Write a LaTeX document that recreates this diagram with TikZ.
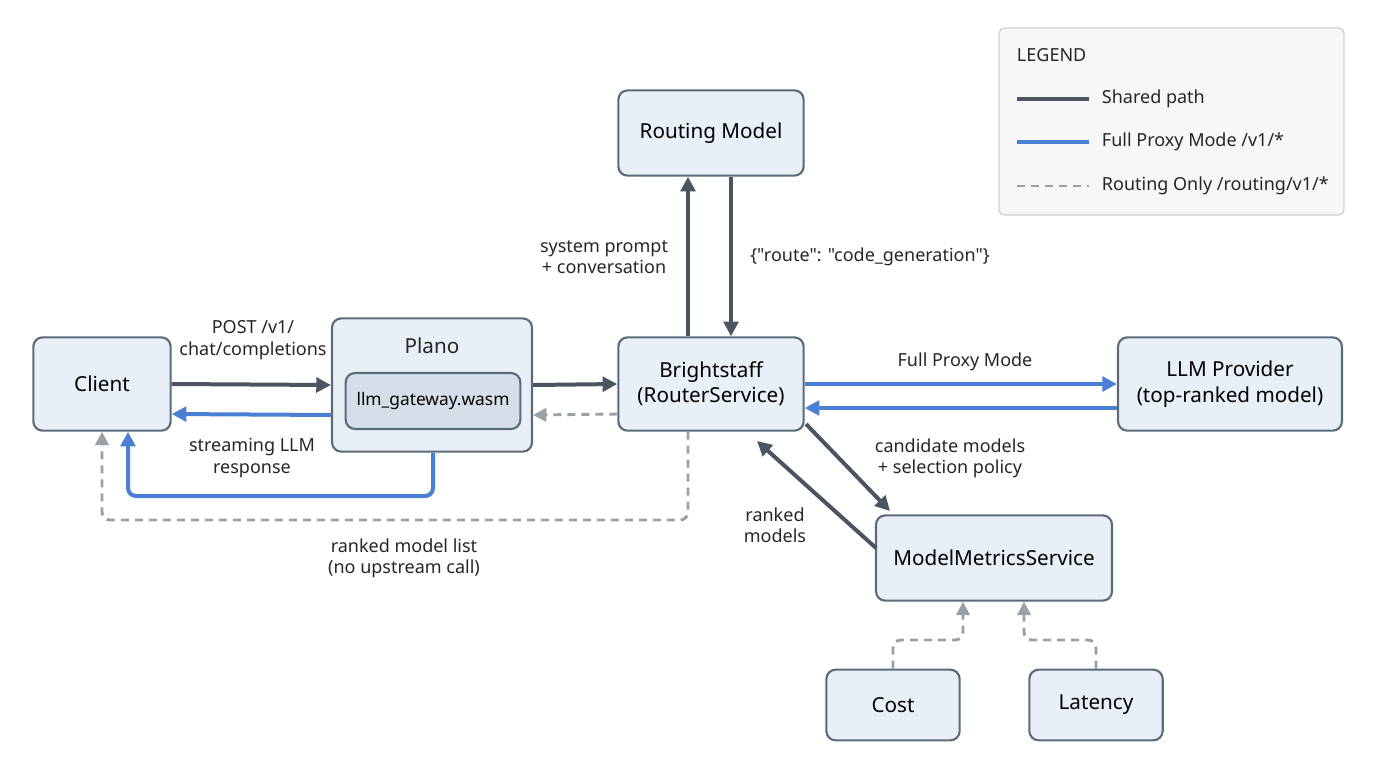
\documentclass[tikz,border=0pt]{standalone}
\usepackage{fontspec}
\setmainfont{Noto Sans}
\newfontfamily\rawfont{Noto Sans}[Ligatures=TeXOff]
\usetikzlibrary{arrows.meta}
\definecolor{darkline}{HTML}{4A5561}
\definecolor{blueline}{HTML}{4A7FD4}
\definecolor{grayline}{HTML}{9AA0A6}
\definecolor{boxfill}{HTML}{E9EFF6}
\definecolor{boxdraw}{HTML}{5C6B7A}
\definecolor{innerfill}{HTML}{D6DFE9}
\tikzset{every picture/.style={line width=0.75pt}}
\tikzset{
  box/.style={draw=boxdraw, fill=boxfill, line width=1.6pt, rounded corners=7pt, align=center, font=\fontsize{15.5}{19}\selectfont},
  lbl/.style={align=center, font=\fontsize{13.5}{16}\selectfont, text=black!85},
  shared/.style={draw=darkline, line width=3pt, -{Triangle[length=11pt,width=11pt]}},
  proxy/.style={draw=blueline, line width=3pt, -{Triangle[length=11pt,width=11pt]}, rounded corners=6pt},
  routing/.style={draw=grayline, line width=2.2pt, dash pattern=on 6pt off 4.5pt, -{Triangle[length=10pt,width=10pt]}, rounded corners=6pt}
}
\begin{document}
\begin{tikzpicture}[x=0.75pt,y=0.75pt,yscale=-1,xscale=1]
\useasboundingbox (0,0) rectangle (1376,768);

% Legend
\draw [draw=black!18, fill=black!3, line width=1pt, rounded corners=4pt] (999,28) rectangle (1344,215);
\node (legtitle) [lbl, anchor=west] at (1012,55) {LEGEND};
\coordinate (lsA) at (1017,99); \coordinate (leA) at (1089,99);
\coordinate (lsB) at (1017,142); \coordinate (leB) at (1089,142);
\coordinate (lsC) at (1017,186); \coordinate (leC) at (1089,186);
\draw [darkline, line width=3pt] (lsA) -- (leA);
\draw [blueline, line width=3pt] (lsB) -- (leB);
\draw [grayline, line width=2.2pt, dash pattern=on 6pt off 4.5pt] (lsC) -- (leC);
\node (legA) [lbl, anchor=west] at (1097,99) {Shared path};
\node (legB) [lbl, anchor=west] at (1097,142) {Full Proxy Mode /v1/*};
\node (legC) [lbl, anchor=west] at (1097,186) {Routing Only /routing/v1/*};

% Boxes
\node (client) [box, minimum width=103pt, minimum height=70pt] at (102,384) {Client};
\node (plano) [box, minimum width=150pt, minimum height=100pt] at (432,385) {};
\node (planotitle) [lbl, font=\fontsize{15.5}{19}\selectfont] at (432,346) {Plano};
\node (wasm) [box, fill=innerfill, minimum width=131pt, minimum height=42pt, font=\fontsize{13}{15}\selectfont] at (433,401) {llm\_gateway.wasm};
\node (bright) [box, minimum width=139pt, minimum height=70pt] at (711,384) {Brightstaff\\(RouterService)};
\node (routing) [box, minimum width=139pt, minimum height=64pt] at (711,133) {Routing Model};
\node (llm) [box, minimum width=168pt, minimum height=70pt] at (1230,384) {LLM Provider\\(top-ranked model)};
\node (metrics) [box, minimum width=177pt, minimum height=64pt] at (994,558) {ModelMetricsService};
\node (cost) [box, minimum width=100pt, minimum height=53pt] at (893,705) {Cost};
\node (latency) [box, minimum width=100pt, minimum height=53pt] at (1096,705) {Latency};

% Client <-> Plano
\draw [shared] (client.east) -- (plano.west);
\draw [proxy] ([yshift=22.5pt]plano.west) -- ([yshift=22.5pt]client.east);
\coordinate (blueA) at (433,496);
\coordinate (blueB) at (128,496);
\draw [proxy] (plano.south -| blueA) -- (blueA) -- (blueB) -- (blueB |- client.south);
\node (postlbl) [lbl] at (253,340) {POST /v1/\\chat/completions};
\node (streamlbl) [lbl] at (252,458) {streaming LLM\\response};

% Plano <-> Brightstaff
\draw [shared] (plano.east) -- (bright.west);
\draw [routing] ([yshift=22.5pt]bright.west) -- ([yshift=22.5pt]plano.east);
\coordinate (dashA) at (688,520);
\coordinate (dashB) at (102,520);
\draw [routing] (bright.south -| dashA) -- (dashA) -- (dashB) -- (client.south);
\node (rankedlbl) [lbl] at (404,558) {ranked model list\\(no upstream call)};

% Brightstaff <-> Routing Model
\coordinate (upX) at (688,0);
\coordinate (downX) at (731,0);
\draw [shared] (bright.north -| upX) -- (routing.south -| upX);
\draw [shared] (routing.south -| downX) -- (bright.north -| downX);
\node (promptlbl) [lbl] at (604,257) {system prompt\\+ conversation};
\node (routelbl) [lbl] at (870,257) {\rawfont\{"route": "code\_generation"\}};

% Brightstaff <-> LLM Provider
\draw [proxy] (bright.east) -- (llm.west);
\draw [proxy] ([yshift=18pt]llm.west) -- ([yshift=18pt]bright.east);
\node (fulllbl) [lbl] at (965,362) {Full Proxy Mode};

% Brightstaff <-> ModelMetricsService
\coordinate (candS) at (806,424);
\coordinate (candE) at (890,511);
\coordinate (rankS) at (876,548);
\coordinate (rankE) at (757,441);
\draw [shared] (candS) -- (candE);
\draw [shared] (rankS) -- (rankE);
\node (candlbl) [lbl] at (950,458) {candidate models\\+ selection policy};
\node (modlbl) [lbl] at (775,525) {ranked\\models};

% Cost, Latency -> ModelMetricsService
\coordinate (costA) at (893,640);
\coordinate (costB) at (963,640);
\coordinate (latA) at (1096,640);
\coordinate (latB) at (1024,640);
\draw [routing] (cost.north) -- (costA) -- (costB) -- (metrics.south -| costB);
\draw [routing] (latency.north) -- (latA) -- (latB) -- (metrics.south -| latB);
\end{tikzpicture}
\end{document}
